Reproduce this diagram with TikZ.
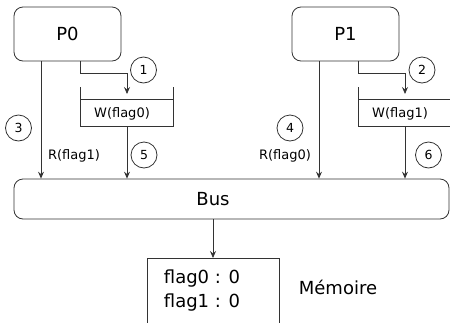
\documentclass[tikz,border=0pt]{standalone}
\usepackage{fontspec}
\setmainfont{DejaVu Sans}
\usetikzlibrary{calc,arrows.meta,positioning}

\begin{document}
\begin{tikzpicture}[x=1pt,y=-1pt,
  wire/.style={draw=black!80,line width=0.8pt},
  arr/.style={wire,-{Stealth[length=7pt,width=6pt,inset=2.5pt]}},
  proc/.style={wire,rounded corners=9pt,minimum width=107pt,minimum height=54pt,font=\fontsize{18}{18}\selectfont},
  bus/.style={wire,rounded corners=9pt,minimum width=435pt,minimum height=40pt},
  num/.style={wire,circle,minimum size=26pt,inner sep=0pt,font=\fontsize{12.5}{12.5}\selectfont},
  small/.style={font=\fontsize{13}{13}\selectfont},
  big/.style={font=\fontsize{18}{24}\selectfont}]
  \useasboundingbox (0,0) rectangle (450,322);
  \clip (0,0) rectangle (450,322);
  \node[bus] (bus) at (231.5,199) {};
  \node[big] (buslbl) at (213,199) {Bus};
  \node[wire,minimum width=132pt,minimum height=90pt,anchor=north] (mem) at (213,258) {};
  \node[big,align=left] (memtxt) at (202,291) {flag0 : 0\\flag1 : 0};
  \node[big] (memlbl) at (338,287) {Mémoire};
  \draw[arr] (bus.south -| mem.north) -- (mem.north);
  \foreach \i/\dx in {0/0,1/278}{
    \node[proc] (p\i) at (67.5+\dx,34) {P\i};
    \coordinate (rd\i) at (41+\dx,0);
    \coordinate (wr\i) at (80.5+\dx,0);
    \coordinate (qin\i) at (127+\dx,94);
    \coordinate (qout\i) at (127+\dx,126);
    \draw[wire] (80.5+\dx,87) |- (173+\dx,126) -- (173+\dx,87);
    \draw[wire] (80.5+\dx,99) -- (173+\dx,99);
    \node[small] (w\i) at (122+\dx,114) {W(flag\i)};
    \draw[arr] (p\i.south -| rd\i) -- (bus.north -| rd\i);
    \draw[arr] (p\i.south -| wr\i) -- ++(0,12) -| (qin\i);
    \draw[arr] (qout\i) -- (bus.north -| qout\i);
  }
  \node[small] (r1) at (74,156) {R(flag1)};
  \node[small] (r0) at (285,156) {R(flag0)};
  \node[num] (n1) at (143.5,70) {1};
  \node[num] (n2) at (422,70) {2};
  \node[num] (n3) at (18.5,128) {3};
  \node[num] (n4) at (290,128) {4};
  \node[num] (n5) at (144,155) {5};
  \node[num] (n6) at (428.5,155) {6};
\end{tikzpicture}
\end{document}
